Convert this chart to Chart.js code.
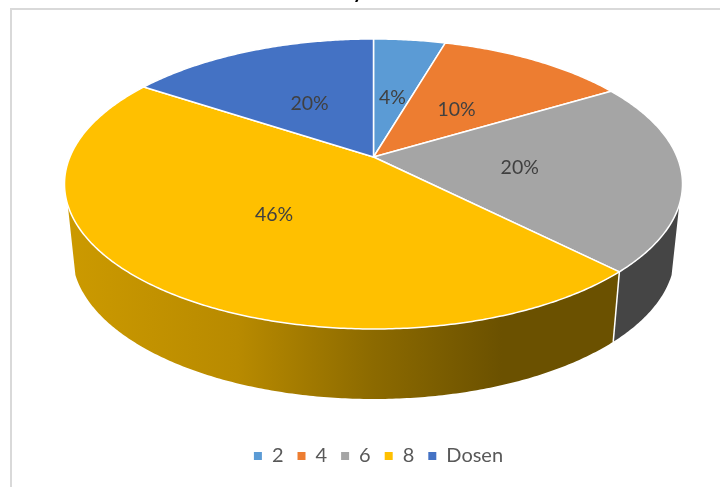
<!DOCTYPE html>
<html lang="en">
<head>
  <meta charset="UTF-8">
  <title>Dosen pie</title>
  <script src="https://cdn.jsdelivr.net/npm/chart.js"></script>
  <style>
    body { margin: 0; background: #fff; overflow: hidden; }
    #frame { position: absolute; left: 10px; top: 8px; width: 720px; height: 490px;
             border-left: 2px solid #d9d9d9; border-top: 2px solid #d9d9d9; }
    canvas { position: absolute; left: 0; top: 0; }
  </style>
</head>
<body>
<div id="frame"></div>
<canvas id="pie" width="720" height="487"></canvas>

<script>
  const categories = ['2', '4', '6', '8', 'Dosen'];
  // slice sizes as drawn in the picture, the printed percentages differ a bit
  const sliceValues = [4.5, 11.9, 21.2, 46.7, 15.7];
  const printedLabels = ['4%', '10%', '20%', '46%', '20%'];
  const colors = ['#5B9BD5', '#ED7D31', '#A5A5A5', '#FFC000', '#4472C4'];
  // only the tail of this letter of the cropped heading shows at the top edge
  const croppedHeading = 'y';

  // perspective of the tilted disc
  const cx = 373.5, apexY = 157, rx = 303.6, ry = 140, tilt = -0.186;
  const depth = 70, bottomScale = 0.975;
  const wallFrom = Math.asin(0.322), wallTo = Math.PI - wallFrom;
  const wallLight = [[0, 0.8], [0.28, 0.72], [0.5, 0.55], [0.71, 0.42], [1, 0.42]];

  function project(angle, r) {
    const u = Math.cos(angle) * r, v = Math.sin(angle) * r;
    const d = 1 + tilt * v;
    return { x: cx + rx * u / d, y: apexY + ry * v / d };
  }

  function shade(hex, f) {
    const n = parseInt(hex.slice(1), 16);
    return `rgb(${(n >> 16 & 255) * f},${(n >> 8 & 255) * f},${(n & 255) * f})`;
  }

  function rimPoints(a0, a1) {
    const pts = [];
    const steps = Math.max(2, Math.ceil((a1 - a0) / 0.01));
    for (let i = 0; i <= steps; i++) pts.push(project(a0 + (a1 - a0) * i / steps, 1));
    return pts;
  }

  function drawWall(ctx, arc, color) {
    const a0 = Math.max(arc.startAngle, wallFrom), a1 = Math.min(arc.endAngle, wallTo);
    if (a1 <= a0) return;
    const top = rimPoints(a0, a1);
    const low = top.map(p => ({ x: cx + (p.x - cx) * bottomScale, y: p.y + depth }));
    const grad = ctx.createLinearGradient(66, 0, 680, 0);
    wallLight.forEach(s => grad.addColorStop(s[0], shade(color, s[1])));
    ctx.fillStyle = grad;
    ctx.beginPath();
    top.forEach((p, i) => i ? ctx.lineTo(p.x, p.y) : ctx.moveTo(p.x, p.y));
    low.reverse().forEach(p => ctx.lineTo(p.x, p.y));
    ctx.closePath();
    ctx.fill();
    // seam between two slices
    if (a0 === arc.startAngle) {
      ctx.strokeStyle = '#fff';
      ctx.lineWidth = 1.5;
      ctx.beginPath();
      ctx.moveTo(top[0].x, top[0].y);
      ctx.lineTo(low[low.length - 1].x, low[low.length - 1].y);
      ctx.stroke();
    }
  }

  function drawTop(ctx, arc, color) {
    const apex = project(0, 0);
    ctx.fillStyle = color;
    ctx.strokeStyle = '#fff';
    ctx.lineWidth = 1.5;
    ctx.lineJoin = 'round';
    ctx.beginPath();
    ctx.moveTo(apex.x, apex.y);
    rimPoints(arc.startAngle, arc.endAngle).forEach(p => ctx.lineTo(p.x, p.y));
    ctx.closePath();
    ctx.fill();
    ctx.stroke();
  }

  // Chart.js lays the slices out, this plugin tilts them and adds the side wall
  const tiltedPie = {
    id: 'tiltedPie',
    beforeDatasetsDraw(chart) {
      const ctx = chart.ctx;
      const arcs = chart.getDatasetMeta(0).data;
      ctx.save();
      arcs.forEach((arc, i) => drawWall(ctx, arc, colors[i]));
      arcs.forEach((arc, i) => drawTop(ctx, arc, colors[i]));

      ctx.fillStyle = '#404040';
      ctx.font = '19.5px Lato';
      ctx.textAlign = 'center';
      ctx.textBaseline = 'middle';
      arcs.forEach((arc, i) => {
        const p = project((arc.startAngle + arc.endAngle) / 2, 0.48);
        ctx.fillText(printedLabels[i], p.x, p.y + 2);
      });

      ctx.fillStyle = '#000';
      ctx.font = 'bold 20px Lato';
      ctx.textBaseline = 'alphabetic';
      ctx.fillText(croppedHeading, 358, -2);
      ctx.restore();
      return false;
    }
  };

  new Chart(document.getElementById('pie'), {
    type: 'pie',
    data: {
      labels: categories,
      datasets: [{ data: sliceValues, backgroundColor: colors, borderWidth: 0 }]
    },
    options: {
      responsive: false,
      animation: false,
      layout: { padding: { bottom: 11, left: 37 } },
      plugins: {
        tooltip: { enabled: false },
        legend: {
          position: 'bottom',
          labels: {
            usePointStyle: true,
            pointStyle: 'rect',
            boxWidth: 8,
            boxHeight: 8,
            padding: 14,
            color: '#595959',
            font: { family: 'Lato', size: 20 }
          }
        }
      }
    },
    plugins: [tiltedPie]
  });
</script>
</body>
</html>
